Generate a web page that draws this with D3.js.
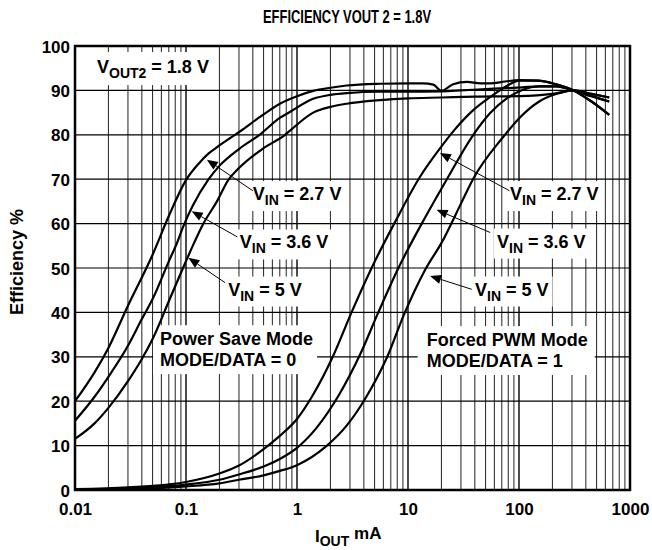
<!DOCTYPE html>
<html><head><meta charset="utf-8">
<script src="https://cdn.jsdelivr.net/npm/d3@7"></script>
<style>
body{margin:0;background:#fff}
svg{display:block}
text{font-family:"Liberation Sans",Arial,Helvetica,sans-serif;font-weight:bold;fill:#000}
</style>
</head><body>
<svg id="chart" width="652" height="550"></svg>
<script>
// ---------- data (I_OUT in mA, efficiency in %) ----------
const xTickValues = [0.01, 0.1, 1, 10, 100, 1000];
const xTickLabels = ["0.01", "0.1", "1", "10", "100", "1000"];
const yTickValues = [0, 10, 20, 30, 40, 50, 60, 70, 80, 90, 100];
const yTickLabels = ["0", "10", "20", "30", "40", "50", "60", "70", "80", "90", "100"];

// Power Save Mode (MODE/DATA = 0)
const psVin27 = [[0.01,20],[0.015,26.5],[0.02,32],[0.03,41.5],[0.05,53],[0.07,61.7],[0.1,69.8],[0.13,73.5],[0.16,75.8],[0.2,77.6],[0.3,80.6],[0.5,84.6],[0.7,87],[1,88.7],[1.4,89.9],[2,90.6],[2.8,91.1],[5.6,91.5],[10,91.6],[13.6,91.6],[16.9,91.3],[20,89.9],[25.5,91.4],[34,91.9],[45,91.6],[55,91.6],[75,92],[100,92.3],[150,92.2],[200,91.6],[310,90],[450,87.5],[650,84.5]];
const psVin36 = [[0.01,15.6],[0.015,21],[0.02,25.5],[0.03,32.5],[0.04,38.5],[0.05,43],[0.07,51.5],[0.0825,55.5],[0.095,59.5],[0.115,64],[0.16,70],[0.2,73],[0.3,76.8],[0.46,80],[0.7,83.8],[0.87,85.2],[1.4,88.1],[2,89],[2.8,89.4],[5.6,89.7],[10,89.7],[20,89.8],[30,90],[50,90.3],[75,90.5],[107,90.7],[152,90.9],[217,90.9],[310,90],[450,88.7],[650,87.5]];
const psVin5 = [[0.01,11.5],[0.015,15],[0.02,18.5],[0.03,24.5],[0.04,29.5],[0.05,34],[0.07,42.5],[0.094,50],[0.12,56],[0.142,59.8],[0.19,65],[0.24,69.8],[0.3,72.5],[0.5,77],[0.78,80],[0.87,81],[1.4,85],[2,86.3],[2.8,87],[5.6,87.8],[10,88.2],[20,88.4],[40,88.6],[100,88.7],[200,89.2],[310,90],[450,89.2],[650,88.4]];

// Forced PWM Mode (MODE/DATA = 1)
const pwmVin27 = [[0.01,0.2],[0.03,0.6],[0.1,1.8],[0.2,3.7],[0.3,5.5],[0.5,9.2],[0.7,12.2],[1,16],[1.4,21.5],[2.1,30],[3.1,40],[4.7,50],[7.7,60.5],[12.8,70.5],[19.5,77],[26,81],[38.5,85.5],[55,88.5],[77.6,91],[100,92.2],[150,92.2],[200,91.6],[310,90],[450,87.5],[650,84.5]];
const pwmVin36 = [[0.01,0.1],[0.03,0.4],[0.1,1.2],[0.2,2.3],[0.3,3.5],[0.5,5.3],[0.7,7],[1,9.5],[1.5,14],[2.4,21.5],[3.7,30.5],[5.4,40],[8.2,50],[13.3,60],[22.4,70],[37.6,79.5],[55,84.9],[77.6,88.2],[107,90.1],[152,90.9],[217,90.9],[310,90],[450,88.7],[650,87.5]];
const pwmVin5 = [[0.01,0.05],[0.03,0.2],[0.1,0.8],[0.2,1.5],[0.3,2.3],[0.5,3.3],[0.7,4.3],[1,5.6],[1.86,10],[2.8,14.5],[4.1,20.5],[6.5,30],[9.2,39.5],[14.2,49.5],[20.4,56],[30,64.5],[38.5,70],[72,79.5],[101,83.8],[152,87.5],[233,89.4],[310,90],[450,89.2],[650,88.4]];

const seriesList = [psVin27, psVin36, psVin5, pwmVin27, pwmVin36, pwmVin5];

// annotations in data coordinates: text anchor, arrow start, arrow tip
const vinLabels = [
  {v:"2.7", tx:0.40, ty:65.3, from:[0.40,67.4], tip:[0.154,74.4]},
  {v:"3.6", tx:0.305, ty:54.4, from:[0.29,57.0], tip:[0.1125,62.8]},
  {v:"5",   tx:0.24, ty:43.8, from:[0.225,46.7], tip:[0.105,52.3]},
  {v:"2.7", tx:83, ty:65.3, from:[82,67.4], tip:[19.4,75.9]},
  {v:"3.6", tx:63.4, ty:54.6, from:[55,58.0], tip:[18.1,63.1]},
  {v:"5",   tx:40.2, ty:43.8, from:[37.5,45.2], tip:[15.8,48.2]}
];

// ---------- chart ----------
const svg = d3.select("#chart");
svg.append("rect").attr("width",652).attr("height",550).attr("fill","#fff");

const x = d3.scaleLog().domain([0.01, 1000]).range([75, 630]);
const y = d3.scaleLinear().domain([0, 100]).range([490, 46]);

// title
svg.append("text").attr("x", 347).attr("y", 23).attr("text-anchor","middle")
  .attr("textLength", 168).attr("lengthAdjust","spacingAndGlyphs")
  .style("font-size","19px").text("EFFICIENCY VOUT 2 = 1.8V");

const grid = svg.append("g");
const minor = [];
[0.01,0.1,1,10,100].forEach(d => { for (let k=2;k<=9;k++) minor.push(d*k); });
grid.selectAll("line.minor").data(minor).join("line").attr("class","minor")
  .attr("x1",d=>x(d)).attr("x2",d=>x(d)).attr("y1",y(0)).attr("y2",y(100))
  .attr("stroke","#222").attr("stroke-width",1);
grid.selectAll("line.major").data(xTickValues).join("line").attr("class","major")
  .attr("x1",d=>x(d)).attr("x2",d=>x(d)).attr("y1",y(0)).attr("y2",y(100))
  .attr("stroke","#000").attr("stroke-width",1.4);
grid.selectAll("line.h").data(yTickValues).join("line").attr("class","h")
  .attr("x1",x(0.01)).attr("x2",x(1000)).attr("y1",d=>y(d)).attr("y2",d=>y(d))
  .attr("stroke","#000").attr("stroke-width",1.2);

// labels with white boxes
const labelLayer = svg.append("g");
function boxedText(lines, opts) {
  const g = labelLayer.append("g");
  const rect = g.append("rect").attr("fill","#fff");
  lines.forEach(l => {
    const t = g.append("text").attr("x", l.x).attr("y", l.y).style("font-size", (opts.size||18)+"px");
    l.parts.forEach((p,i) => {
      const ts = t.append("tspan").text(p.t);
      if (p.sub) ts.style("font-size",(opts.sub||14)+"px").attr("dy", 5);
      else if (i>0 && l.parts[i-1].sub) ts.attr("dy", -5);
    });
  });
  const bb = g.node().getBBox();
  const pad = opts.pad || [4,4,3,3];
  rect.attr("x", bb.x-pad[0]).attr("y", bb.y-pad[2])
      .attr("width", bb.width+pad[0]+pad[1]).attr("height", bb.height+pad[2]+pad[3]);
  return g;
}

boxedText([{x:x(0.01578), y:y(93.9), parts:[{t:"V"},{t:"OUT2",sub:true},{t:" = 1.8 V"}]}], {pad:[9,8,5,4]});

vinLabels.forEach(a => {
  boxedText([{x:x(a.tx), y:y(a.ty), parts:[{t:"V"},{t:"IN",sub:true},{t:" = "+a.v+" V"}]}], {pad:[3,4,3,3]});
});

boxedText([
  {x:x(0.0583), y:y(32.6), parts:[{t:"Power Save Mode"}]},
  {x:x(0.0583), y:y(27.9), parts:[{t:"MODE/DATA = 0"}]}
], {pad:[7,4,4,4]});
boxedText([
  {x:x(14.74), y:y(32.4), parts:[{t:"Forced PWM Mode"}]},
  {x:x(14.74), y:y(27.7), parts:[{t:"MODE/DATA = 1"}]}
], {pad:[9,7,4,4]});

// curves
svg.append("clipPath").attr("id","clip").append("rect")
  .attr("x",x(0.01)).attr("y",y(100)).attr("width",x(1000)-x(0.01)).attr("height",y(0)-y(100));
const line = d3.line().x(d=>x(d[0])).y(d=>y(d[1])).curve(d3.curveMonotoneX);
svg.append("g").attr("clip-path","url(#clip)").selectAll("path").data(seriesList).join("path")
  .attr("d", line).attr("fill","none").attr("stroke","#000").attr("stroke-width",2.2)
  .attr("stroke-linejoin","round");

// arrows
const arrows = svg.append("g");
vinLabels.forEach(a => {
  const x1=x(a.from[0]), y1=y(a.from[1]), x2=x(a.tip[0]), y2=y(a.tip[1]);
  const ang = Math.atan2(y2-y1, x2-x1), L=11, Wd=4.5;
  const bx = x2 - L*Math.cos(ang), by = y2 - L*Math.sin(ang);
  arrows.append("line").attr("x1",x1).attr("y1",y1).attr("x2",bx).attr("y2",by)
    .attr("stroke","#000").attr("stroke-width",1);
  const p = [[x2,y2],[bx - Wd*Math.sin(ang), by + Wd*Math.cos(ang)],[bx + Wd*Math.sin(ang), by - Wd*Math.cos(ang)]];
  arrows.append("polygon").attr("points", p.map(q=>q.join(",")).join(" ")).attr("fill","#000");
});

// frame
svg.append("rect").attr("x",x(0.01)).attr("y",y(100)).attr("width",x(1000)-x(0.01)).attr("height",y(0)-y(100))
  .attr("fill","none").attr("stroke","#000").attr("stroke-width",2.5);

// axes tick labels
const xAxis = d3.axisBottom(x).tickValues(xTickValues).tickFormat((d,i)=>xTickLabels[i]).tickSize(0).tickPadding(0);
const gx = svg.append("g").attr("transform",`translate(0,${y(0)})`).call(xAxis);
gx.select(".domain").remove();
gx.selectAll("text").attr("dy",null).attr("y",25).style("font-size","17px").style("font-family",null);
const yAxis = d3.axisLeft(y).tickValues(yTickValues).tickFormat((d,i)=>yTickLabels[i]).tickSize(0).tickPadding(0);
const gy = svg.append("g").attr("transform",`translate(${x(0.01)-5},0)`).call(yAxis);
gy.select(".domain").remove();
gy.selectAll("text").attr("dy","0.36em").style("font-size","17px").style("font-family",null);

// axis titles
const xt = svg.append("text").attr("x",315).attr("y",542).style("font-size","17px");
xt.append("tspan").text("I");
xt.append("tspan").text("OUT").style("font-size","14px").attr("dy",4);
xt.append("tspan").text(" mA").attr("dy",-7);
svg.append("text").attr("transform","translate(23,262) rotate(-90)").attr("text-anchor","middle")
  .style("font-size","18px").text("Efficiency %");
</script>
</body></html>
